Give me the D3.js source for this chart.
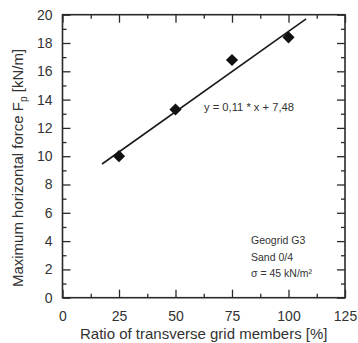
<!DOCTYPE html>
<html>
<head>
<meta charset="utf-8">
<script src="https://cdn.jsdelivr.net/npm/d3@7"></script>
<style>
  body { margin: 0; background: #fff; }
  text { font-family: "Liberation Sans", Arial, sans-serif; fill: #333; }
</style>
</head>
<body>
<div id="chart"></div>
<script>
// measured values
var ratios = [25, 50, 75, 100];
var forces = [10.0, 13.3, 16.8, 18.4];
// regression line ends
var fitX = [17.5, 107.8];
var fitY = [9.45, 19.7];
var xTicks = [0, 25, 50, 75, 100, 125];
var yTicks = [0, 2, 4, 6, 8, 10, 12, 14, 16, 18, 20];
var notes = ["Geogrid G3", "Sand 0/4", "\u03c3 = 45 kN/m\u00b2"];
var equation = "y = 0,11 * x + 7,48";

var width = 358, height = 343;
var padL = 62.5, padR = 345, padT = 14.7, padB = 297.7;
var ink = "#2a2a2a";

var svg = d3.select("#chart")
    .append("svg")
    .attr("width", width)
    .attr("height", height);

var x = d3.scaleLinear().domain([0, 125]).range([padL, padR]);
var y = d3.scaleLinear().domain([0, 20]).range([padB, padT]);

var xMinor = d3.range(12.5, 125, 25);
var yMinor = d3.range(1, 20, 2);

// ticks pointing inward on all four sides
function tickStyle(g) {
    g.select(".domain").remove();
    g.selectAll("line").attr("stroke", ink).attr("stroke-width", 1.3);
}

svg.append("g")
    .attr("transform", "translate(0," + padB + ")")
    .call(d3.axisBottom(x).tickValues(xTicks).tickSizeInner(-8).tickSizeOuter(0).tickPadding(13))
    .call(tickStyle)
    .call(g => g.selectAll("text").attr("font-size", 14).attr("fill", "#333").attr("font-family", "Liberation Sans, Arial, sans-serif"));
svg.append("g")
    .attr("transform", "translate(0," + padB + ")")
    .call(d3.axisBottom(x).tickValues(xMinor).tickSize(-4).tickFormat(""))
    .call(tickStyle);
svg.append("g")
    .attr("transform", "translate(0," + padT + ")")
    .call(d3.axisTop(x).tickValues(xTicks).tickSize(-8).tickFormat(""))
    .call(tickStyle);
svg.append("g")
    .attr("transform", "translate(0," + padT + ")")
    .call(d3.axisTop(x).tickValues(xMinor).tickSize(-4).tickFormat(""))
    .call(tickStyle);

svg.append("g")
    .attr("transform", "translate(" + padL + ",0)")
    .call(d3.axisLeft(y).tickValues(yTicks).tickSizeInner(-8).tickSizeOuter(0).tickPadding(10))
    .call(tickStyle)
    .call(g => g.selectAll("text").attr("font-size", 14).attr("fill", "#333").attr("font-family", "Liberation Sans, Arial, sans-serif"));
svg.append("g")
    .attr("transform", "translate(" + padL + ",0)")
    .call(d3.axisLeft(y).tickValues(yMinor).tickSize(-4).tickFormat(""))
    .call(tickStyle);
svg.append("g")
    .attr("transform", "translate(" + padR + ",0)")
    .call(d3.axisRight(y).tickValues(yTicks).tickSize(-8).tickFormat(""))
    .call(tickStyle);
svg.append("g")
    .attr("transform", "translate(" + padR + ",0)")
    .call(d3.axisRight(y).tickValues(yMinor).tickSize(-4).tickFormat(""))
    .call(tickStyle);

// frame
svg.append("rect")
    .attr("x", padL)
    .attr("y", padT)
    .attr("width", padR - padL)
    .attr("height", padB - padT)
    .attr("fill", "none")
    .attr("stroke", ink)
    .attr("stroke-width", 1.6);

// fit line
svg.append("line")
    .attr("x1", x(fitX[0]))
    .attr("y1", y(fitY[0]))
    .attr("x2", x(fitX[1]))
    .attr("y2", y(fitY[1]))
    .attr("stroke", "#1a1a1a")
    .attr("stroke-width", 1.6);

// diamonds
var diamond = d3.symbol().type(d3.symbolSquare).size(74);
svg.selectAll("path.pt")
    .data(ratios)
    .enter()
    .append("path")
    .attr("class", "pt")
    .attr("d", diamond)
    .attr("transform", (d, i) => "translate(" + x(d) + "," + y(forces[i]) + ") rotate(45)")
    .attr("fill", "#111");

svg.append("text")
    .attr("x", 204)
    .attr("y", 111)
    .attr("font-size", 11.2)
    .attr("fill", "#333")
    .text(equation);

svg.selectAll("text.note")
    .data(notes)
    .enter()
    .append("text")
    .attr("class", "note")
    .attr("x", 251)
    .attr("y", (d, i) => 244 + i * 16.5)
    .attr("font-size", 10.5)
    .attr("fill", "#333")
    .text(d => d);

// axis titles
svg.append("text")
    .attr("x", (padL + padR) / 2)
    .attr("y", 339)
    .attr("text-anchor", "middle")
    .attr("font-size", 15)
    .text("Ratio of transverse grid members [%]");

var yt = svg.append("text")
    .attr("transform", "translate(23,168) rotate(-90)")
    .attr("text-anchor", "middle")
    .attr("font-size", 15);
yt.append("tspan").text("Maximum horizontal force F");
yt.append("tspan").attr("font-size", 10).attr("dy", 4).text("p");
yt.append("tspan").attr("dy", -4).text(" [kN/m]");
</script>
</body>
</html>
